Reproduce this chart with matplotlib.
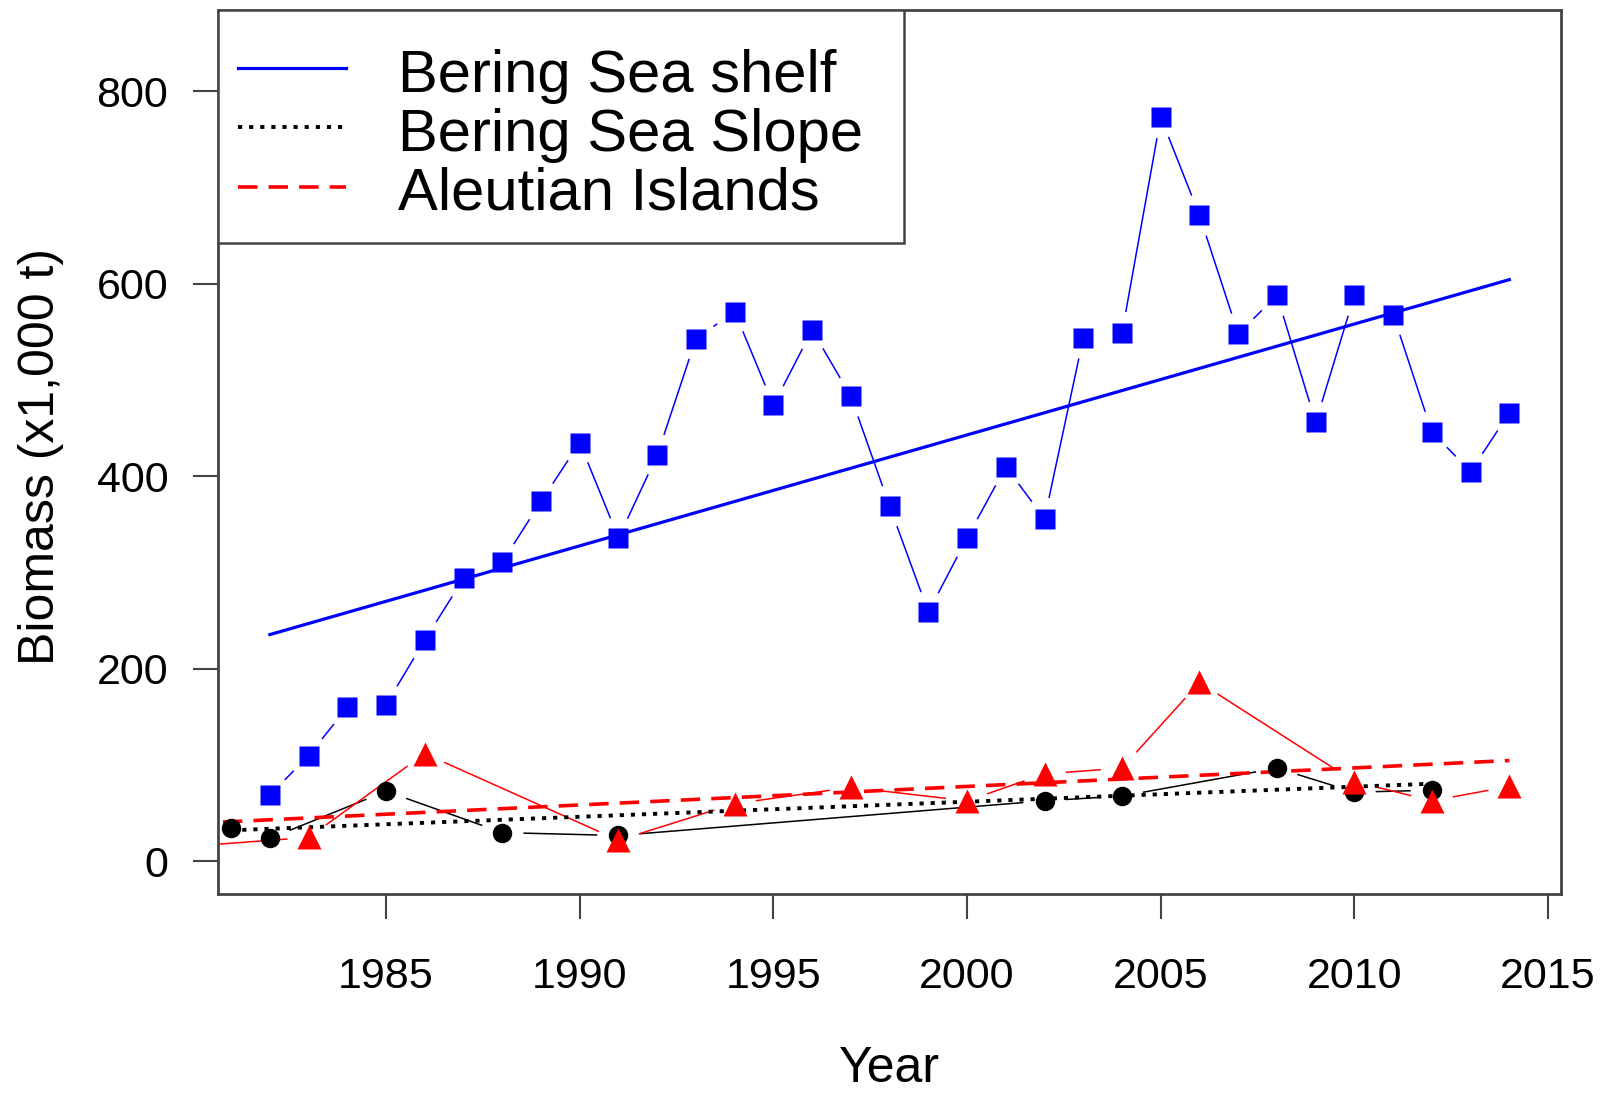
import matplotlib.pyplot as plt
import numpy as np
from matplotlib.patches import Rectangle

plt.rcParams['font.family'] = ['Liberation Sans', 'DejaVu Sans']
plt.rcParams['lines.scale_dashes'] = False

# Survey biomass (x1,000 t)
shelf_years = [1982, 1983, 1984, 1985, 1986, 1987, 1988, 1989, 1990, 1991, 1992,
               1993, 1994, 1995, 1996, 1997, 1998, 1999, 2000, 2001, 2002, 2003,
               2004, 2005, 2006, 2007, 2008, 2009, 2010, 2011, 2012, 2013, 2014]
shelf_biomass = [69, 110, 160, 163, 230, 294, 311, 374, 435, 336, 422,
                 543, 571, 474, 552, 483, 369, 259, 336, 410, 356, 544,
                 549, 773, 671, 548, 588, 456, 588, 568, 446, 405, 466]

slope_years = [1981, 1982, 1985, 1988, 1991, 2002, 2004, 2008, 2010, 2012]
slope_biomass = [35, 24, 73, 30, 27, 63, 68, 97, 72, 74]

ai_years = [1980, 1983, 1986, 1991, 1994, 1997, 2000, 2002, 2004, 2006, 2010, 2012, 2014]
ai_biomass = [16, 25, 112, 22, 60, 77, 63, 91, 97, 186, 83, 63, 78]

legend_labels = ['Bering Sea shelf', 'Bering Sea Slope', 'Aleutian Islands']
x_ticks = [1985, 1990, 1995, 2000, 2005, 2010, 2015]
y_ticks = [0, 200, 400, 600, 800]

frame_col = '#444444'

fig = plt.figure(figsize=(16.08, 10.94), dpi=100)
ax = fig.add_axes([0.1358, 0.1826, 0.8349, 0.808])
ax.set_xlim(1980.67, 2015.33)
ax.set_ylim(-34, 884)


def gapped(ax, x, y, color, gap=22):
    # R type="b": connecting segments stop short of the symbols
    pts = ax.transData.transform(np.column_stack([x, y]))
    inv = ax.transData.inverted()
    for p0, p1 in zip(pts[:-1], pts[1:]):
        d = p1 - p0
        L = np.hypot(d[0], d[1])
        if L <= 2 * gap:
            continue
        u = d / L
        seg = inv.transform(np.array([p0 + u * gap, p1 - u * gap]))
        ax.plot(seg[:, 0], seg[:, 1], color=color, lw=1.1, zorder=2)


def trend(ax, x, y, **kw):
    b, a = np.polyfit(x, y, 1)
    xs = np.array([min(x), max(x)])
    ax.plot(xs, a + b * xs, zorder=3, **kw)


# Bering Sea shelf
gapped(ax, shelf_years, shelf_biomass, 'blue')
ax.plot(shelf_years, shelf_biomass, 's', color='blue', ms=14, mec='none', zorder=4)
trend(ax, shelf_years, shelf_biomass, color='blue', lw=2.3)

# Bering Sea slope
gapped(ax, slope_years, slope_biomass, 'black')
ax.plot(slope_years, slope_biomass, 'o', color='black', ms=14, mec='none', zorder=4)
trend(ax, slope_years, slope_biomass, color='black', lw=2.8, ls=(0, (3, 5)))

# Aleutian Islands
gapped(ax, ai_years, ai_biomass, 'red')
ax.plot(ai_years, ai_biomass, '^', color='red', ms=17, mec='none', zorder=5)
trend(ax, ai_years, ai_biomass, color='red', lw=2.6, ls=(0, (14, 8)))

# axes styling (R base look)
for s in ax.spines.values():
    s.set_color(frame_col)
    s.set_linewidth(2)
ax.set_xticks(x_ticks)
ax.set_yticks(y_ticks)
ax.tick_params(axis='both', direction='out', length=18, width=1.5,
               color=frame_col, labelsize=31)
ax.tick_params(axis='x', pad=27)
ax.tick_params(axis='y', pad=18)

fig.text(0.0255, 0.583, 'Biomass (x1,000 t)', rotation=90, fontsize=36,
         ha='center', va='center')
fig.text(0.5533, 0.002, 'Year', fontsize=36, ha='center', va='bottom')

# legend box, drawn by hand like R's legend()
ax.add_patch(Rectangle((0, 0.7367), 0.511, 0.2633, transform=ax.transAxes,
                       facecolor='white', edgecolor=frame_col, lw=1.8, zorder=10))
handle_styles = [dict(color='blue', lw=2.3, ls='-'),
                 dict(color='black', lw=2.8, ls=(0, (3, 5))),
                 dict(color='red', lw=2.6, ls=(0, (14, 8)))]
row_y = [0.935, 0.868, 0.8005]
text_y = [0.9072, 0.8412, 0.775]
for label, st, yl, yt in zip(legend_labels, handle_styles, row_y, text_y):
    ax.plot([0.0145, 0.0948], [yl, yl], transform=ax.transAxes, zorder=11,
            clip_on=False, **st)
    ax.text(0.1337, yt, label, transform=ax.transAxes, fontsize=43,
            ha='left', va='baseline', zorder=11)

plt.savefig('out.png', dpi=100, facecolor='white')
